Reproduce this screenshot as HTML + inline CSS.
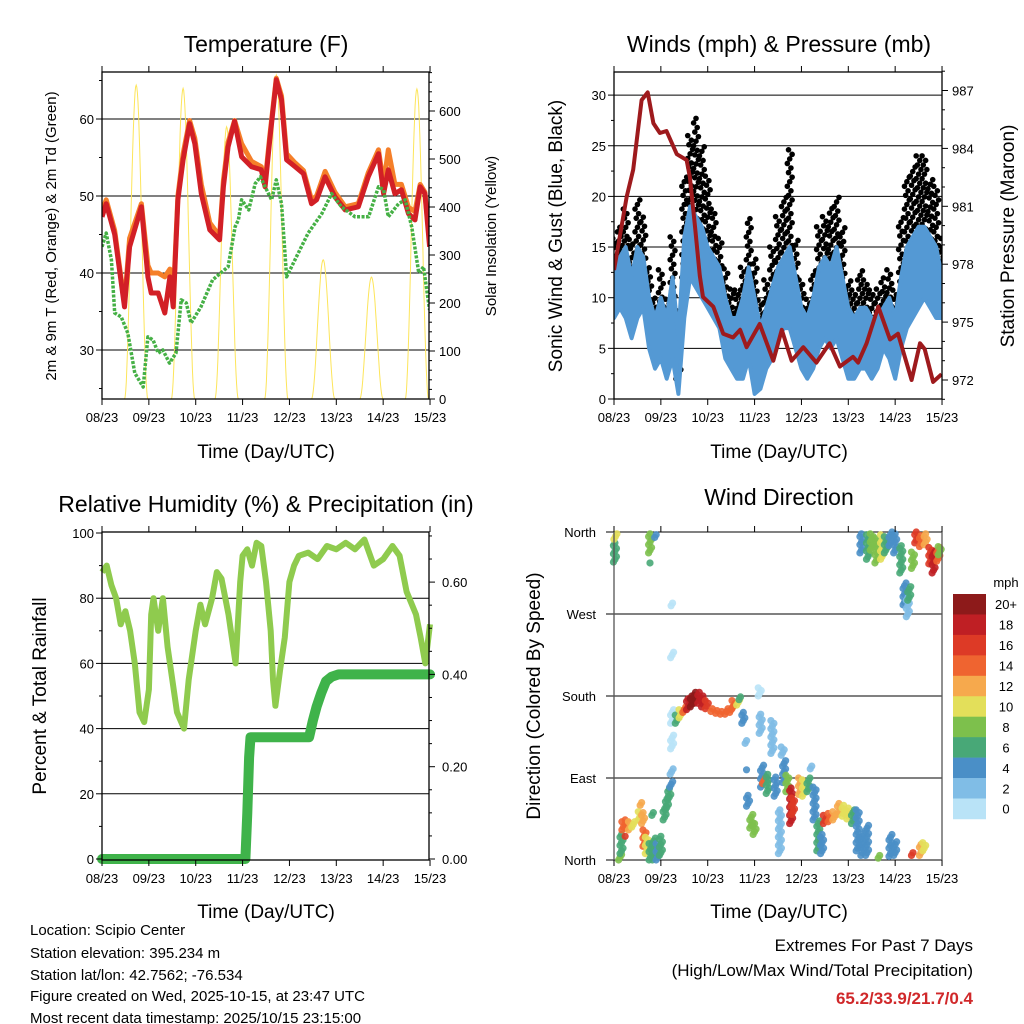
<!DOCTYPE html>
<html><head><meta charset="utf-8"><style>
html,body{margin:0;padding:0;background:#fff;}
svg{display:block;font-family:"Liberation Sans",Arial,sans-serif;}
</style></head><body>
<svg id="fig" width="1024" height="1024" viewBox="0 0 1024 1024" xmlns="http://www.w3.org/2000/svg">
<rect width="1024" height="1024" fill="#fff"/>
<g id="p1"></g>
<g id="p2"></g>
<g id="p3"></g>
<g id="p4"></g>
<g font-size="15" fill="#000">
<text x="30" y="935">Location: Scipio Center</text>
<text x="30" y="958">Station elevation: 395.234 m</text>
<text x="30" y="980">Station lat/lon: 42.7562; -76.534</text>
<text x="30" y="1001">Figure created on Wed, 2025-10-15, at 23:47 UTC</text>
<text x="30" y="1023">Most recent data timestamp: 2025/10/15 23:15:00</text>
</g>
<g text-anchor="end">
<text x="973" y="951" font-size="17">Extremes For Past 7 Days</text>
<text x="973" y="976" font-size="17">(High/Low/Max Wind/Total Precipitation)</text>
<text x="973" y="1004" font-size="17" font-weight="bold" fill="#d0282a">65.2/33.9/21.7/0.4</text>
</g>
</svg>
<script>
// ---------- DATA ----------
const dayLabels = ["08/23","09/23","10/23","11/23","12/23","13/23","14/23","15/23"];
const tTemp = [0,0.09,0.27,0.48,0.59,0.84,0.98,1.05,1.2,1.34,1.45,1.52,1.62,1.73,1.87,1.98,2.12,2.3,2.51,2.59,2.69,2.83,2.98,3.19,3.4,3.48,3.58,3.72,3.83,3.94,4.12,4.3,4.47,4.58,4.76,4.97,5.19,5.47,5.68,5.9,6.01,6.11,6.25,6.39,6.54,6.68,6.79,6.89,6.99];
const tempRed = [47.3,49,45,35.6,43.4,48.6,39.5,37.4,37.4,34.8,39.5,35.6,49.5,54.7,59.4,56.8,50.3,45.6,44.3,51.2,56.4,59.7,55.1,53.8,53.4,51.2,57.3,65.1,62.5,54.7,53.8,52.9,49,49.5,52.5,49.9,48.2,48.6,52.5,55.5,50.3,53.4,50.3,50.8,47.7,46.9,51.2,50.3,43.4];
const tempOrange = [48,49.5,45.5,36,44.5,49,41,40,40,39.5,40.5,36.5,50,55.5,59.8,57.5,51.5,46.5,44.8,52,57,59.8,56.8,54.5,53.8,51.8,57.8,65.3,63,55.5,54.3,53.3,49.5,50,53.2,50.5,48.6,49,53,56,51.5,56,51.5,51.5,48.5,48,51.5,50.5,44];
const tDew = [0,0.09,0.2,0.27,0.41,0.55,0.7,0.88,0.98,1.09,1.2,1.3,1.44,1.58,1.69,1.8,1.9,2.11,2.36,2.69,2.84,2.91,2.98,3.13,3.27,3.38,3.48,3.62,3.72,3.83,3.94,4.19,4.4,4.69,4.9,5.11,5.4,5.69,5.9,6.01,6.11,6.33,6.47,6.61,6.76,6.86,6.99];
const dewGreen = [43.4,45.2,41.7,34.8,34.3,32.2,27,25.2,31.7,31.3,29.6,30,28.3,29.6,36.5,36.1,33.5,35.6,39.1,40.8,46,46.9,49.5,48.2,51.6,52.5,51.2,49.5,52.1,49,39.5,42.6,45.2,47.7,50.3,48.6,47.3,47.3,51.2,50.8,47.3,49,49.5,46,40,40.8,35.2];
const solarPeakDay = [0.73,1.73,2.66,3.72,4.72,5.75,6.72];
const solarPeak = [654,647,567,675,290,254,646];

const tWind = [0,0.125,0.25,0.375,0.5,0.625,0.75,0.875,1,1.125,1.25,1.375,1.5,1.625,1.75,1.875,2,2.125,2.25,2.375,2.5,2.625,2.75,2.875,3,3.125,3.25,3.375,3.5,3.625,3.75,3.875,4,4.125,4.25,4.375,4.5,4.625,4.75,4.875,5,5.125,5.25,5.375,5.5,5.625,5.75,5.875,6,6.125,6.25,6.375,6.5,6.625,6.75,6.875,7];
const windLo = [8,9,8,6,8,9,5,3,4,2,4,0.5,8,12,11,10,9,8,7,4,3,2,2,4,0.5,1,3,4,6,7,7,5,3,2,3,5,6,5,6,4,2,2,3,3,2,3,5,4,2,5,7,8,9,10,9,8,8];
const windHi = [14,14,15,12,15,14,10,8,10,8,12,6,16,19,18,17,15,14,13,10,8,8,10,13,10,7,9,11,13,14,15,12,9,8,10,13,14,13,15,12,9,8,9,9,8,8,9,10,8,12,15,16,17,17,16,15,12];
const gustLo = [10,12,12,9,12,13,8,5,6,4,7,2,12,17,16,15,13,12,10,7,5,4,4,7,3,3,5,6,9,10,12,8,5,4,5,8,9,8,10,7,4,4,5,5,4,5,7,6,4,8,12,13,15,15,14,12,10];
const gustHi = [16,17,19,16,20,18,13,10,13,10,16,9,22,26,28,25,22,19,16,13,11,11,13,18,14,10,12,15,18,20,25,16,12,10,13,17,18,19,20,17,12,11,13,12,11,11,12,13,11,18,22,23,24,24,22,21,16];
const tPres = [0,0.27,0.41,0.59,0.72,0.84,0.98,1.12,1.34,1.55,1.62,1.73,1.83,1.9,2.12,2.33,2.54,2.69,2.83,3.11,3.4,3.58,3.79,4.04,4.32,4.6,4.82,5.1,5.21,5.39,5.64,5.89,6.06,6.35,6.53,6.63,6.81,6.99];
const pres = [977.7,981.5,982.9,986.5,986.9,985.3,984.8,984.9,983.7,983.4,982.5,979.9,977.4,976.3,975.8,974.4,974.2,974.6,973.7,974.9,973,974.6,973,973.7,972.9,973.9,972.7,973.2,972.9,973.9,975.8,974.1,974.4,972,973.9,973.6,971.9,972.3];

const tRH = [0,0.1,0.2,0.3,0.4,0.5,0.6,0.7,0.8,0.9,1.0,1.05,1.1,1.2,1.3,1.4,1.5,1.6,1.75,1.85,2.0,2.1,2.2,2.35,2.45,2.55,2.7,2.8,2.85,2.95,3.0,3.1,3.2,3.3,3.4,3.5,3.6,3.65,3.7,3.8,3.9,4.0,4.1,4.2,4.4,4.6,4.8,5.0,5.2,5.4,5.6,5.8,6.0,6.2,6.35,6.5,6.7,6.8,6.9,7.0];
const rh = [88,90,84,80,72,76,70,60,45,42,52,75,80,70,80,65,55,45,40,55,70,78,72,80,88,86,75,65,60,85,93,95,90,97,96,85,70,55,47,58,68,85,90,93,94,92,96,95,97,95,98,90,92,96,93,82,75,68,60,72];
const tRain = [0,3.06,3.1,3.14,3.17,4.42,4.5,4.58,4.68,4.78,4.9,5.05,7];
const rain = [0,0,0.1,0.22,0.264,0.264,0.3,0.33,0.36,0.385,0.395,0.4,0.4];

const dirT = [0.02,0.03,0.77,0.8,0.9,0.13,0.16,0.2,0.27,0.34,0.41,0.27,0.59,0.55,0.62,0.65,0.7,0.78,0.85,0.93,1.0,0.84,1.08,1.13,1.18,1.22,1.23,1.24,1.24,1.24,1.25,1.34,1.42,1.5,1.58,1.66,1.74,1.82,1.9,1.98,2.1,2.2,2.3,2.4,2.5,2.55,2.65,2.7,2.76,2.83,2.86,2.86,2.93,3.0,3.11,3.13,3.16,3.2,3.28,3.38,3.45,3.54,3.6,3.63,3.7,3.78,3.82,3.97,4.05,4.15,4.22,4.28,4.36,4.44,4.5,4.6,4.7,4.8,4.9,5.0,5.1,5.2,5.3,5.4,5.67,5.9,6.0,6.38,6.55,6.62,5.28,5.42,5.5,5.6,5.72,5.8,5.9,6.0,6.13,6.2,6.27,6.3,6.38,6.45,6.55,6.65,6.75,6.82,6.92,6.95];
const dirLo = [327,352,337,326,354,0,7,33,35,33,36,26,60,44,40,15,7,0,0,0,5,49,44,55,66,80,94,122,150,222,279,150,156,162,165,168,172,172,168,166,163,161,160,160,162,166,170,176,150,128,99,59,35,28,180,139,80,84,73,117,70,7,115,85,75,40,50,72,70,75,100,44,10,7,40,42,44,50,48,45,40,10,5,5,2,4,5,5,5,10,337,330,340,326,330,337,345,337,315,280,267,285,320,348,344,346,325,315,328,335];
const dirHi = [350,360,358,328,358,7,29,44,45,42,44,28,64,55,52,33,25,20,26,18,26,53,60,70,80,88,102,138,165,230,282,160,165,170,178,182,186,185,182,176,168,166,165,166,170,176,178,180,162,132,101,73,50,42,190,161,106,90,95,154,92,55,125,110,95,80,70,90,88,91,104,80,44,30,50,52,54,64,60,58,56,55,30,40,6,29,20,9,18,20,358,358,360,355,358,355,360,358,345,305,290,300,340,360,358,358,344,340,345,345];
const dirSpd = [7,10,9,6,4,8,6,15,14,12,10,16,12,11,12,14,10,7,6,5,6,7,7,7,7,5,2,1,1,0,0,6,10,14,18,20,20,19,18,16,15,14,14,14,15,15,10,7,5,2,4,4,9,8,1,2,4,14,7,3,5,2,3,4,8,18,16,13,10,7,2,4,7,5,16,15,13,12,11,10,7,5,4,5,9,5,4,17,13,10,4,6,9,8,10,7,4,5,6,4,2,7,8,17,14,12,16,18,14,9];
const spdLabels = ["20+","18","16","14","12","10","8","6","4","2","0"];
const spdColors = ["#b9e3f7","#80bde6","#4a8fc7","#48a877","#7dc04c","#e3df5a","#f6a94d","#ef6430","#dd3a26","#bf1f24","#8d1a1a"];

// ---------- HELPERS ----------
const NS="http://www.w3.org/2000/svg";
function el(parent,tag,attrs,txt){const e=document.createElementNS(NS,tag);for(const k in attrs)e.setAttribute(k,attrs[k]);if(txt!==undefined)e.textContent=txt;parent.appendChild(e);return e;}
const DAYPX=46.86;
function linY(v,v0,y0,pxPer){return y0-(v-v0)*pxPer;}
function frame(g,x0,y0,x1,y1){
  const r=el(g,'rect',{x:x0,y:y0,width:x1-x0,height:y1-y0,fill:'none',stroke:'#000','stroke-width':1.3});
  
  
}
function grid(g,x0,x1,y){
  const l=el(g,'line',{x1:x0,x2:x1,y1:y,y2:y,stroke:'#000','stroke-width':1});
  
  
}
function xAxis(g,x0,yb,yt){
  dayLabels.forEach((lab,i)=>{
    const x=x0+i*DAYPX;
    el(g,'line',{x1:x,x2:x,y1:yb,y2:yb+6,stroke:'#000','stroke-width':1});
    el(g,'line',{x1:x,x2:x,y1:yt,y2:yt-6,stroke:'#000','stroke-width':1});
    const t=el(g,'text',{x:x,y:yb+23,'font-size':13,'text-anchor':'middle'},lab);
    
    
  });
}
function title(g,x,y,txt,size,name){const t=el(g,'text',{x:x,y:y,'font-size':size,'text-anchor':'middle'},txt);return t;}
function vtitle(g,x,y,txt,size,name){const t=el(g,'text',{x:x,y:y,'font-size':size,'text-anchor':'middle',transform:`rotate(-90 ${x} ${y})`},txt);return t;}
function path(pts){return pts.map((p,i)=>(i?'L':'M')+p[0].toFixed(1)+' '+p[1].toFixed(1)).join(' ');}

// ---------- PANEL 1: TEMPERATURE ----------
(function(){
  const g=document.getElementById('p1');
  const X0=102,X1=429,YT=72,YB=399;
  const sx=t=>X0+t*DAYPX, sy=v=>linY(v,30,350,7.7), ss=v=>linY(v,0,399,0.48);
  const clip=el(g,'clipPath',{id:'c1'});el(clip,'rect',{x:X0,y:YT,width:X1-X0,height:YB-YT});
  [30,40,50,60].forEach(v=>grid(g,X0,X1,sy(v)));
  const body=el(g,'g',{'clip-path':'url(#c1)'});
  solarPeakDay.forEach((c,i)=>{
    const pts=[];for(let k=0;k<=40;k++){const t=c-0.25+k*0.5/40;const f=Math.sin(Math.PI*k/40);pts.push([sx(t),ss(solarPeak[i]*f*f)]);}
    const p=el(body,'path',{d:path(pts),fill:'none',stroke:'#fde55a','stroke-width':1});
    
    
  });
  const po=el(body,'path',{d:path(tTemp.map((t,i)=>[sx(t),sy(tempOrange[i])])),fill:'none',stroke:'#f57f29','stroke-width':5,'stroke-linejoin':'round'});
  
  
  const pr=el(body,'path',{d:path(tTemp.map((t,i)=>[sx(t),sy(tempRed[i])])),fill:'none',stroke:'#d21f26','stroke-width':5,'stroke-linejoin':'round'});
  
  
  const pg=el(body,'path',{d:path(tDew.map((t,i)=>[sx(t),sy(dewGreen[i])])),fill:'none',stroke:'#45b045','stroke-width':3.5,'stroke-dasharray':'3 1.5','stroke-linejoin':'round'});
  
  
  frame(g,X0,YT,X1,YB);
  xAxis(g,X0,YB,YT);
  for(let v=25;v<=65;v+=5){const y=sy(v);el(g,'line',{x1:X0,x2:X0-(v%10?3:6),y1:y,y2:y,stroke:'#000'});
    if(v%10===0){const t=el(g,'text',{x:X0-8,y:y+5,'font-size':13,'text-anchor':'end'},v);}}
  for(let v=0;v<=680;v+=20){const y=ss(v);el(g,'line',{x1:X1,x2:X1+(v%100?3:6),y1:y,y2:y,stroke:'#000'});
    if(v%100===0){const t=el(g,'text',{x:X1+10,y:y+5,'font-size':13},v);}}
  title(g,266,52,'Temperature (F)',23,'chart-title');
  vtitle(g,56,236,'2m & 9m T (Red, Orange) & 2m Td (Green)',15,'y-axis-title');
  vtitle(g,496,236,'Solar Insolation (Yellow)',15,'y2-axis-title');
  title(g,266,458,'Time (Day/UTC)',19,'x-axis-title');
})();

// ---------- PANEL 2: WINDS ----------
(function(){
  const g=document.getElementById('p2');
  const X0=614,X1=942,YT=72,YB=399;
  const sx=t=>X0+t*DAYPX, sy=v=>linY(v,0,399,10.13), sp=v=>linY(v,972,380,19.3);
  const clip=el(g,'clipPath',{id:'c2'});el(clip,'rect',{x:X0,y:YT,width:X1-X0,height:YB-YT});
  [5,10,15,20,25,30].forEach(v=>grid(g,X0,X1,sy(v)));
  const body=el(g,'g',{'clip-path':'url(#c2)'});
  const offs=[-2.4,0,2.4,-1.2,1.2];
  tWind.forEach((t,i)=>{
    for(let v=gustLo[i],k=0;v<=gustHi[i];v+=0.45,k++){
      const c=el(body,'circle',{cx:sx(t)+offs[k%5],cy:sy(v),r:2.8,fill:'#000'});
      
      
    }
  });
  const up=tWind.map((t,i)=>[sx(t),sy(windHi[i])]), dn=tWind.map((t,i)=>[sx(t),sy(windLo[i])]).reverse();
  const band=el(body,'path',{d:path(up.concat(dn))+' Z',fill:'#5499d4',stroke:'#5499d4','stroke-width':4,'stroke-linejoin':'round'});
  
  
  const pl=el(body,'path',{d:path(tPres.map((t,i)=>[sx(t),sp(pres[i])])),fill:'none',stroke:'#9e1a1d','stroke-width':4,'stroke-linejoin':'round'});
  
  
  frame(g,X0,YT,X1,YB);
  xAxis(g,X0,YB,YT);
  for(let v=0;v<=32;v+=2.5){const y=sy(v);el(g,'line',{x1:X0,x2:X0-(v%5?3:6),y1:y,y2:y,stroke:'#000'});
    if(v%5===0){const t=el(g,'text',{x:X0-8,y:y+5,'font-size':13,'text-anchor':'end'},v);}}
  for(let v=971;v<=988;v+=1){const y=sp(v);el(g,'line',{x1:X1,x2:X1+(v%3?3:6),y1:y,y2:y,stroke:'#000'});
    if(v%3===0){const t=el(g,'text',{x:X1+10,y:y+5,'font-size':13},v);}}
  title(g,779,52,'Winds (mph) & Pressure (mb)',23,'chart-title');
  vtitle(g,562,236,'Sonic Wind & Gust (Blue, Black)',19,'y-axis-title');
  vtitle(g,1014,236,'Station Pressure (Maroon)',19,'y2-axis-title');
  title(g,779,458,'Time (Day/UTC)',19,'x-axis-title');
})();

// ---------- PANEL 3: RH & PRECIP ----------
(function(){
  const g=document.getElementById('p3');
  const X0=102,X1=429,YT=532,YB=860;
  const sx=t=>X0+t*DAYPX, sy=v=>linY(v,0,859,3.26), sr=v=>linY(v,0,859,461.5);
  const clip=el(g,'clipPath',{id:'c3'});el(clip,'rect',{x:X0-6,y:YT,width:X1-X0+12,height:YB-YT+6});
  [20,40,60,80].forEach(v=>grid(g,X0,X1,sy(v)));
  const body=el(g,'g',{'clip-path':'url(#c3)'});
  const pr=el(body,'path',{d:path(tRH.map((t,i)=>[sx(t),sy(rh[i])])),fill:'none',stroke:'#8fcb4e','stroke-width':6,'stroke-linejoin':'round'});
  
  
  const pp=el(body,'path',{d:path(tRain.map((t,i)=>[sx(t),sr(rain[i])])),fill:'none',stroke:'#3fb34a','stroke-width':10,'stroke-linecap':'round','stroke-linejoin':'round'});
  
  
  frame(g,X0,YT,X1,YB);
  xAxis(g,X0,YB,YT);
  for(let v=0;v<=100;v+=10){const y=sy(v);el(g,'line',{x1:X0,x2:X0-(v%20?3:6),y1:y,y2:y,stroke:'#000'});
    if(v%20===0){const t=el(g,'text',{x:X0-8,y:y+5,'font-size':13,'text-anchor':'end'},v);}}
  for(let k=0;k<=14;k++){const v=k*0.05;const y=sr(v);if(y<YT)break;el(g,'line',{x1:X1,x2:X1+(k%4?3:6),y1:y,y2:y,stroke:'#000'});
    if(k%4===0){const t=el(g,'text',{x:X1+13,y:y+5,'font-size':13},v.toFixed(2));}}
  title(g,266,512,'Relative Humidity (%) & Precipitation (in)',23,'chart-title');
  vtitle(g,46,696,'Percent & Total Rainfall',19,'y-axis-title');
  title(g,266,918,'Time (Day/UTC)',19,'x-axis-title');
})();

// ---------- PANEL 4: WIND DIRECTION ----------
(function(){
  const g=document.getElementById('p4');
  const X0=614,X1=942,YT=532,YB=860;
  const sx=t=>X0+t*DAYPX, sy=d=>YB-d*(YB-YT)/360;
  [90,180,270,360].forEach(v=>grid(g,X0-8,X1,sy(v)));
  grid(g,X0-8,X1,YB);
  dirT.forEach((t,i)=>{
    const ci=Math.min(10,Math.floor(dirSpd[i]/2));
    for(let d=dirLo[i],k=0;d<=dirHi[i]+0.01;d+=3,k++){
      const c=el(g,'circle',{cx:sx(t)+((k%3)-1)*1.5,cy:sy(d),r:3.6,fill:spdColors[ci],'fill-opacity':0.9});
      
      
    }
  });
  el(g,'line',{x1:X0,x2:X0,y1:YT,y2:YB,stroke:'#555','stroke-width':1.3});
  el(g,'line',{x1:X1,x2:X1,y1:YT,y2:YB,stroke:'#555','stroke-width':1.3});
  xAxis(g,X0,YB,YT);
  ["North","East","South","West","North"].forEach((lab,i)=>{
    const t=el(g,'text',{x:X0-18,y:sy(i*90)+5,'font-size':13,'text-anchor':'end'},lab);
    
    
  });
  const cb=el(g,'g',{});
  
  
  const bh=20.45;
  spdLabels.forEach((lab,i)=>{
    const y=594+i*bh;
    const r=el(cb,'rect',{x:953,y:y,width:33,height:bh+0.3,fill:spdColors[10-i]});
    
    
    const t=el(cb,'text',{x:1006,y:y+bh/2+5,'font-size':13,'text-anchor':'middle'},lab);
    
    
  });
  const u=el(cb,'text',{x:1006,y:587,'font-size':13,'text-anchor':'middle'},'mph');
  
  
  title(g,779,505,'Wind Direction',23,'chart-title');
  vtitle(g,540,696,'Direction (Colored By Speed)',19,'y-axis-title');
  title(g,779,918,'Time (Day/UTC)',19,'x-axis-title');
})();
</script>
</body></html>
